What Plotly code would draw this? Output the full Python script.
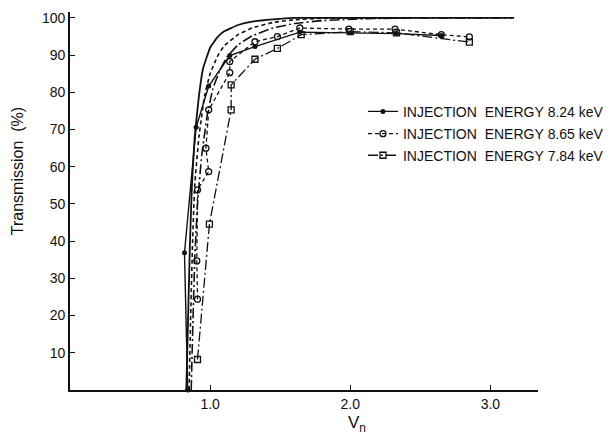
import plotly.graph_objects as go

# ---------------- data ----------------
# measured points
vn_824 = [0.84, 0.817, 0.90, 0.99, 1.14, 1.32, 1.64, 2.00, 2.33, 2.65]
tr_824 = [0.0, 36.9, 70.6, 81.7, 89.9, 92.3, 96.2, 96.0, 95.8, 95.3]

vn_865 = [0.91, 0.905, 0.91, 0.99, 0.97, 0.99, 1.14, 1.14, 1.32, 1.48, 1.64, 1.99, 2.32, 2.65, 2.85]
tr_865 = [24.4, 34.7, 53.8, 58.7, 65.0, 75.3, 85.3, 88.3, 93.6, 95.0, 97.3, 97.0, 97.0, 95.5, 94.9]

vn_784 = [0.91, 0.995, 1.15, 1.15, 1.32, 1.48, 1.65, 2.00, 2.33, 2.85]
tr_784 = [8.2, 44.6, 75.3, 82.0, 88.9, 91.8, 95.5, 96.3, 96.0, 93.5]

# calculated curves (no markers)
vn_calc_824 = [0.83, 0.84, 0.855, 0.87, 0.89, 0.92, 0.95, 1.00, 1.05, 1.10, 1.20, 1.30, 1.45, 1.60, 2.00, 2.50, 3.17]
tr_calc_824 = [0, 15, 38, 55, 68, 79, 86.5, 92, 94.7, 96.4, 98.1, 99.0, 99.6, 100, 100, 100, 100]

vn_calc_865 = [0.85, 0.86, 0.875, 0.89, 0.92, 0.96, 1.00, 1.05, 1.10, 1.20, 1.30, 1.45, 1.60, 1.80, 2.40]
tr_calc_865 = [0, 18, 40, 55, 68, 79, 85, 89.5, 92.5, 95.5, 97.3, 98.8, 99.5, 99.9, 100]

vn_calc_784 = [0.865, 0.875, 0.89, 0.91, 0.94, 0.98, 1.02, 1.07, 1.12, 1.20, 1.30, 1.45, 1.60, 1.80, 2.10, 2.50, 3.15]
tr_calc_784 = [0, 15, 35, 50, 63, 74, 81, 86, 89.5, 92.8, 95.2, 97.3, 98.5, 99.3, 99.8, 100, 100]

x_ticks = [1, 2, 3]
x_tick_labels = ["1.0", "2.0", "3.0"]
y_ticks = [10, 20, 30, 40, 50, 60, 70, 80, 90, 100]
y_tick_labels = ["10", "20", "30", "40", "50", "60", "70", "80", "90", "100"]

labels = ["INJECTION\u00a0\u00a0ENERGY\u00a08.24\u00a0keV",
          "INJECTION\u00a0\u00a0ENERGY\u00a08.65\u00a0keV",
          "INJECTION\u00a0\u00a0ENERGY\u00a07.84\u00a0keV"]
x_title = "V<sub>n</sub>"
y_title = "Transmission\u00a0\u00a0(%)"

# ---------------- figure ----------------
FONT = "Liberation Sans"
BLACK = "#111111"

fig = go.Figure()

# calculated curves
fig.add_trace(go.Scatter(x=vn_calc_824, y=tr_calc_824, mode="lines", showlegend=False,
                         line=dict(color=BLACK, width=1.8, shape="spline", smoothing=0.3)))
fig.add_trace(go.Scatter(x=vn_calc_865, y=tr_calc_865, mode="lines", showlegend=False,
                         line=dict(color=BLACK, width=1.6, dash="4px,3px", shape="spline", smoothing=0.3)))
fig.add_trace(go.Scatter(x=vn_calc_784, y=tr_calc_784, mode="lines", showlegend=False,
                         line=dict(color=BLACK, width=1.6, dash="10px,3px,2px,3px", shape="spline", smoothing=0.3)))

# measured
fig.add_trace(go.Scatter(x=vn_824, y=tr_824, mode="lines+markers", name=labels[0], legend="legend",
                         line=dict(color=BLACK, width=1.4),
                         marker=dict(symbol="circle", size=5, color=BLACK), cliponaxis=False))
fig.add_trace(go.Scatter(x=vn_865, y=tr_865, mode="lines+markers", name=labels[1], legend="legend2",
                         line=dict(color=BLACK, width=1.3, dash="4px,3px"),
                         marker=dict(symbol="circle-open", size=6, color=BLACK, line=dict(width=1.3)),
                         cliponaxis=False))
fig.add_trace(go.Scatter(x=vn_784, y=tr_784, mode="lines+markers", name=labels[2], legend="legend3",
                         line=dict(color=BLACK, width=1.3, dash="10px,3px,2px,3px"),
                         marker=dict(symbol="square-open", size=6, color=BLACK, line=dict(width=1.3)),
                         cliponaxis=False))

leg_common = dict(x=0.626, xanchor="left", yanchor="middle", bgcolor="rgba(0,0,0,0)",
                  font=dict(family=FONT, size=14, color=BLACK), borderwidth=0)

# the page body adds an 8 px offset, so the figure is drawn 8 px smaller
fig.update_layout(
    width=607, height=430,
    margin=dict(l=62, r=77, t=4, b=48, autoexpand=False),
    paper_bgcolor="white", plot_bgcolor="white",
    font=dict(family=FONT, color=BLACK),
    legend=dict(y=0.736, **leg_common),
    legend2=dict(y=0.677, **leg_common),
    legend3=dict(y=0.620, **leg_common),
    xaxis=dict(range=[0, 3.34], showgrid=False, zeroline=False, showline=True, automargin=False,
               linecolor=BLACK, linewidth=1.6, ticks="inside", ticklen=5, tickwidth=1.2,
               tickcolor=BLACK, tickvals=x_ticks, ticktext=x_tick_labels,
               tickfont=dict(family=FONT, size=14, color=BLACK)),
    yaxis=dict(range=[0, 101.6], showgrid=False, zeroline=False, showline=True, automargin=False,
               linecolor=BLACK, linewidth=1.6, ticks="inside", ticklen=5, tickwidth=1.2,
               tickcolor=BLACK, tickvals=y_ticks, ticktext=y_tick_labels,
               tickfont=dict(family=FONT, size=14, color=BLACK)),
    annotations=[
        dict(text=x_title, xref="paper", yref="paper", x=0.613, y=-0.09,
             xanchor="center", yanchor="middle", showarrow=False,
             font=dict(family=FONT, size=17, color=BLACK)),
        dict(text=y_title, xref="paper", yref="paper", x=-0.113, y=0.579, textangle=-90,
             xanchor="center", yanchor="middle", showarrow=False,
             font=dict(family=FONT, size=16, color=BLACK)),
    ],
)

fig.write_html("out.html")
